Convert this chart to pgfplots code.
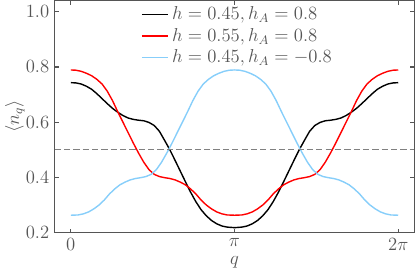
\documentclass[border=0pt]{standalone}
\usepackage{pgfplots}
\pgfplotsset{compat=1.18}
\definecolor{skyb}{HTML}{87CEFA}
\definecolor{axgray}{HTML}{555555}
\begin{document}
\begin{tikzpicture}
\begin{axis}[
  scale only axis,
  width=231pt, height=149pt,
  font=\fontsize{12}{14}\selectfont,
  xmin=-0.31, xmax=6.593,
  ymin=0.2, ymax=1.04,
  xtick={0,3.14159,6.28318},
  xticklabels={$0$,$\pi$,$2\pi$},
  ytick={0.2,0.4,0.6,0.8,1.0},
  yticklabel style={/pgf/number format/.cd,fixed,fixed zerofill,precision=1},
  tick align=inside,
  major tick length=2.5pt,
  axis line style={axgray, line width=0.8pt},
  every tick/.style={axgray, line width=0.8pt},
  tick label style={text=axgray},
  xlabel={$q$},
  ylabel={$\langle n_q\rangle$},
  xlabel style={text=axgray, yshift=3pt},
  ylabel style={text=axgray, yshift=-6pt},
  legend style={at={(0.235,0.995)}, anchor=north west, draw=none, fill=none, row sep=0pt, inner sep=1pt, text=axgray, font=\fontsize{12}{14}\selectfont},
  legend cell align=left,
  clip=false,
]
\addplot[black, line width=0.9pt] coordinates {
(0,0.743)(0.1,0.742)(0.2,0.738)(0.3,0.730)(0.4,0.719)(0.5,0.703)(0.6,0.685)(0.7,0.667)(0.8,0.650)(0.9,0.636)(1.0,0.624)(1.1,0.615)(1.2,0.610)(1.3,0.607)(1.4,0.605)(1.5,0.599)(1.6,0.588)(1.7,0.567)(1.8,0.534)(1.9,0.500)(2.0,0.462)(2.1,0.423)(2.2,0.384)(2.3,0.346)(2.4,0.312)(2.5,0.283)(2.6,0.261)(2.7,0.244)(2.8,0.232)(2.9,0.224)(3.0,0.220)(3.1416,0.218)
(3.2832,0.220)(3.3832,0.224)(3.4832,0.232)(3.5832,0.244)(3.6832,0.261)(3.7832,0.283)(3.8832,0.312)(3.9832,0.346)(4.0832,0.384)(4.1832,0.423)(4.2832,0.462)(4.3832,0.500)(4.4832,0.534)(4.5832,0.567)(4.6832,0.588)(4.7832,0.599)(4.8832,0.605)(4.9832,0.607)(5.0832,0.610)(5.1832,0.615)(5.2832,0.624)(5.3832,0.636)(5.4832,0.650)(5.5832,0.667)(5.6832,0.685)(5.7832,0.703)(5.8832,0.719)(5.9832,0.730)(6.0832,0.738)(6.1832,0.742)(6.2832,0.743)
};
\addlegendentry{$h=0.45, h_A=0.8$}
\addplot[red, line width=0.9pt] coordinates {
(0,0.789)(0.1,0.788)(0.2,0.784)(0.3,0.777)(0.4,0.768)(0.5,0.755)(0.6,0.738)(0.7,0.712)(0.8,0.678)(0.9,0.638)(1.0,0.600)(1.1,0.562)(1.2,0.524)(1.3,0.488)(1.4,0.455)(1.5,0.428)(1.6,0.411)(1.7,0.403)(1.8,0.399)(1.9,0.396)(2.0,0.391)(2.1,0.383)(2.2,0.373)(2.3,0.358)(2.4,0.340)(2.5,0.318)(2.6,0.300)(2.7,0.286)(2.8,0.275)(2.9,0.268)(3.0,0.264)(3.1416,0.263)
(3.2832,0.264)(3.3832,0.268)(3.4832,0.275)(3.5832,0.286)(3.6832,0.300)(3.7832,0.318)(3.8832,0.340)(3.9832,0.358)(4.0832,0.373)(4.1832,0.383)(4.2832,0.391)(4.3832,0.396)(4.4832,0.399)(4.5832,0.403)(4.6832,0.411)(4.7832,0.428)(4.8832,0.455)(4.9832,0.488)(5.0832,0.524)(5.1832,0.562)(5.2832,0.600)(5.3832,0.638)(5.4832,0.678)(5.5832,0.712)(5.6832,0.738)(5.7832,0.755)(5.8832,0.768)(5.9832,0.777)(6.0832,0.784)(6.1832,0.788)(6.2832,0.789)
};
\addlegendentry{$h=0.55, h_A=0.8$}
\addplot[skyb, line width=0.9pt] coordinates {
(0,0.263)(0.1416,0.264)(0.2416,0.268)(0.3416,0.275)(0.4416,0.286)(0.5416,0.300)(0.6416,0.318)(0.7416,0.340)(0.8416,0.358)(0.9416,0.373)(1.0416,0.383)(1.1416,0.391)(1.2416,0.396)(1.3416,0.399)(1.4416,0.403)(1.5416,0.411)(1.6416,0.428)(1.7416,0.455)(1.8416,0.488)(1.9416,0.524)(2.0416,0.562)(2.1416,0.600)(2.2416,0.638)(2.3416,0.678)(2.4416,0.712)(2.5416,0.738)(2.6416,0.755)(2.7416,0.768)(2.8416,0.777)(2.9416,0.784)(3.0416,0.788)(3.1416,0.789)
(3.2416,0.788)(3.3416,0.784)(3.4416,0.777)(3.5416,0.768)(3.6416,0.755)(3.7416,0.738)(3.8416,0.712)(3.9416,0.678)(4.0416,0.638)(4.1416,0.600)(4.2416,0.562)(4.3416,0.524)(4.4416,0.488)(4.5416,0.455)(4.6416,0.428)(4.7416,0.411)(4.8416,0.403)(4.9416,0.399)(5.0416,0.396)(5.1416,0.391)(5.2416,0.383)(5.3416,0.373)(5.4416,0.358)(5.5416,0.340)(5.6416,0.318)(5.7416,0.300)(5.8416,0.286)(5.9416,0.275)(6.0416,0.268)(6.1416,0.264)(6.2832,0.263)
};
\addlegendentry{$h=0.45, h_A=-0.8$}
\addplot[gray, line width=0.8pt, forget plot, dash pattern=on 4pt off 2pt] coordinates {(-0.31,0.5)(6.593,0.5)};
\end{axis}
\end{tikzpicture}
\end{document}
